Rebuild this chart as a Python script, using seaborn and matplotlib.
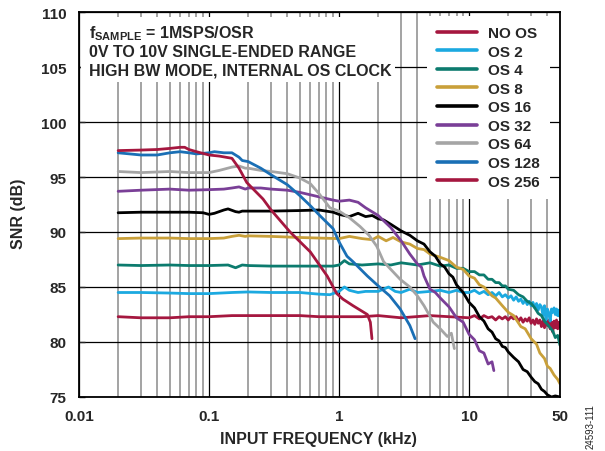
import numpy as np
import pandas as pd
import matplotlib
matplotlib.use("Agg")
import matplotlib.pyplot as plt
from matplotlib.lines import Line2D
from matplotlib.patches import Rectangle
from matplotlib.ticker import LogLocator, NullFormatter, FixedLocator, FixedFormatter
import seaborn as sns

# ---------------- data ----------------
series_names = ["NO OS", "OS 2", "OS 4", "OS 8", "OS 16", "OS 32", "OS 64", "OS 128", "OS 256"]

no_os_f = [0.02, 0.03, 0.05, 0.07, 0.1, 0.15, 0.2, 0.3, 0.5, 0.7, 1, 1.5, 2, 3, 5, 7,
           10, 11, 12, 13, 14, 15, 16, 17, 18, 19, 20, 21, 22, 23, 24, 25, 26, 27, 28, 29, 30,
           31, 32, 33, 34, 35, 36, 37, 38, 39, 40, 41, 42, 43, 44, 45, 46, 47, 48, 49, 50]
no_os_v = [82.3, 82.2, 82.2, 82.3, 82.3, 82.4, 82.4, 82.4, 82.4, 82.3, 82.3, 82.3, 82.4, 82.2, 82.4, 82.3,
           82.2, 82.4, 82.1, 82.4, 82.2, 82.3, 82.0, 82.3, 82.1, 82.3, 82.0, 82.3, 82.1, 82.3, 81.9,
           82.2, 81.8, 82.1, 81.9, 82.2, 81.7, 82.0, 81.6, 82.1, 81.7, 82.0, 81.4, 81.9, 81.3, 81.9,
           81.5, 82.0, 81.2, 81.8, 80.9, 81.9, 81.3, 82.0, 81.2, 81.8, 81.4]

os2_f = [0.02, 0.03, 0.05, 0.07, 0.1, 0.15, 0.2, 0.3, 0.5, 0.7, 0.85, 1.0, 1.1, 1.2, 1.4, 1.6, 2, 2.4, 2.7,
         3, 3.5, 4, 5, 6, 7, 8, 9,
         10, 11, 12, 13, 14, 15, 16, 17, 18, 19, 20, 21, 22, 23, 24, 25, 26, 27, 28, 29, 30,
         31, 32, 33, 34, 35, 36, 37, 38, 39, 40, 41, 42, 43, 44, 45, 46, 47, 48, 49, 50]
os2_v = [84.5, 84.5, 84.45, 84.4, 84.4, 84.5, 84.55, 84.5, 84.5, 84.35, 84.3, 84.6, 85.0, 84.7, 84.5, 84.6,
         84.6, 85.0, 84.6, 84.5, 84.8, 84.5, 84.6, 84.7, 84.5, 84.7, 84.5,
         84.5, 84.7, 84.4, 84.6, 84.3, 84.5, 84.2, 84.5, 84.1, 84.3, 84.0, 84.2, 83.8, 84.1, 83.7,
         83.9, 83.5, 83.8, 83.4, 83.7, 83.3, 83.6, 83.1, 83.5, 82.9, 83.4, 83.2, 82.4, 83.3, 82.0,
         83.0, 82.6, 81.9, 83.0, 82.7, 83.1, 82.5, 83.0, 82.4, 82.9, 82.3]

os4_f = [0.02, 0.03, 0.05, 0.07, 0.1, 0.14, 0.16, 0.18, 0.2, 0.3, 0.5, 0.7, 0.9, 1.0, 1.1, 1.2, 1.5, 2,
         2.5, 3, 4, 5, 6, 7, 8, 9, 10, 11, 12, 13, 14, 15, 16, 17, 18, 19, 20, 22, 24, 26, 28, 30,
         32, 34, 36, 38, 40, 42, 44, 46, 48, 50]
os4_v = [87.0, 86.95, 87.0, 86.95, 86.95, 87.0, 86.75, 87.0, 86.95, 86.9, 86.9, 86.9, 86.9, 87.0, 87.4,
         87.1, 87.0, 87.1, 87.0, 87.2, 87.0, 87.2, 86.9, 87.0, 86.7, 86.7, 86.4, 86.4, 86.1, 86.1, 85.7,
         85.7, 85.4, 85.4, 85.1, 85.1, 84.8, 84.7, 84.3, 84.1, 83.7, 83.5, 83.1, 82.6, 82.4, 81.9,
         81.6, 81.3, 81.0, 80.4, 80.6, 79.7]

os8_f = [0.02, 0.03, 0.05, 0.07, 0.1, 0.13, 0.15, 0.17, 0.19, 0.2, 0.3, 0.5, 0.7, 1, 1.2, 1.5, 1.8, 2,
         2.3, 2.6, 3, 3.5, 4, 4.5, 5, 6, 7, 8, 9, 10, 11, 12, 13, 15, 16, 18, 20, 22, 25, 27, 30,
         33, 35, 38, 40, 42, 45, 48, 50]
os8_v = [89.4, 89.45, 89.45, 89.4, 89.4, 89.45, 89.6, 89.7, 89.6, 89.65, 89.6, 89.5, 89.45, 89.4, 89.6,
         89.4, 89.3, 89.6, 89.2, 89.5, 89.1, 88.9, 88.5, 88.4, 88.0, 87.7, 87.4, 86.8, 86.6, 86.0, 85.8,
         85.2, 85.0, 84.2, 84.0, 83.3, 82.7, 82.4, 81.4, 81.2, 80.3, 79.8, 79.0, 78.5, 77.8, 77.6,
         77.0, 76.6, 76.2]

os16_f = [0.02, 0.03, 0.05, 0.07, 0.09, 0.1, 0.11, 0.13, 0.14, 0.16, 0.17, 0.18, 0.2, 0.3, 0.5, 0.7, 0.9,
          1.0, 1.2, 1.4, 1.6, 1.8, 2, 2.2, 2.5, 3, 3.5, 4, 4.5, 5, 5.5, 6, 6.5, 7, 7.5, 8, 9, 10,
          11, 12, 13, 14, 15, 16, 17, 18, 19, 20, 22, 24, 26, 28, 30, 32, 34, 36, 38, 40, 43, 46, 50]
os16_v = [91.75, 91.8, 91.8, 91.8, 91.75, 91.6, 91.7, 92.0, 92.1, 91.85, 91.8, 91.9, 91.9, 91.9, 91.95,
          92.0, 91.8, 91.6, 91.4, 91.7, 91.4, 91.5, 91.2, 91.1, 90.7, 90.1, 89.7, 89.2, 88.9, 88.2,
          87.8, 87.1, 86.8, 86.2, 85.9, 85.2, 84.5, 83.6, 83.1, 82.3, 81.9, 81.2, 80.9, 80.3, 80.1,
          79.6, 79.5, 79.1, 78.6, 78.2, 77.5, 77.3, 76.8, 76.4, 76.2, 75.7, 75.5, 75.2, 75.0, 75.1,
          75.0]

os32_f = [0.02, 0.03, 0.05, 0.07, 0.1, 0.13, 0.15, 0.17, 0.19, 0.2, 0.25, 0.3, 0.4, 0.5, 0.7, 0.9, 1.0,
          1.2, 1.4, 1.6, 2, 2.5, 3, 3.5, 4, 4.3, 4.5, 5, 5.5, 6, 7, 8, 9, 10, 11, 12, 13, 14, 15, 15.5]
os32_v = [93.7, 93.8, 93.9, 93.8, 93.85, 93.9, 94.0, 94.1, 93.9, 94.0, 94.0, 93.9, 93.8, 93.6, 93.2, 92.9,
          92.8, 92.9, 92.7, 92.2, 91.5, 90.4, 89.2, 88.0, 87.1, 86.8, 86.0, 84.8, 84.5, 84.0, 83.2, 82.2,
          81.8, 80.7, 80.2, 79.2, 79.0, 78.0, 78.2, 77.4]

os64_f = [0.02, 0.03, 0.05, 0.07, 0.1, 0.12, 0.15, 0.17, 0.19, 0.2, 0.25, 0.3, 0.4, 0.5, 0.6, 0.7, 0.85,
          1.0, 1.2, 1.45, 1.7, 1.95, 2.2, 2.5, 2.95, 3.5, 4.0, 4.5, 5.3, 6.0, 6.8, 7.3, 7.7]
os64_v = [95.5, 95.4, 95.5, 95.4, 95.4, 95.6, 95.9, 96.0, 95.8, 95.8, 95.6, 95.5, 95.3, 94.9, 94.4, 93.5,
          92.2, 91.9, 91.3, 90.5, 89.7, 88.7, 87.3, 86.6, 85.7, 85.0, 84.2, 83.3, 81.8, 81.2, 80.5, 80.8,
          79.4]

os128_f = [0.02, 0.03, 0.04, 0.05, 0.06, 0.07, 0.08, 0.1, 0.11, 0.13, 0.15, 0.17, 0.18, 0.2, 0.25, 0.3,
           0.4, 0.5, 0.6, 0.71, 0.9, 1.0, 1.15, 1.28, 1.65, 2.0, 2.45, 2.95, 3.5, 3.84]
os128_v = [97.2, 97.0, 97.0, 97.2, 97.3, 97.2, 97.1, 97.2, 97.3, 97.2, 97.2, 96.8, 96.5, 96.4, 95.8, 95.2,
           94.3, 93.3, 92.4, 91.5, 90.3, 89.1, 87.8, 87.3, 86.0, 85.1, 84.2, 83.0, 81.5, 80.3]

os256_f = [0.02, 0.03, 0.04, 0.05, 0.06, 0.065, 0.07, 0.08, 0.1, 0.12, 0.15, 0.17, 0.195, 0.26, 0.3,
           0.42, 0.6, 0.81, 0.96, 1.07, 1.28, 1.5, 1.65, 1.74, 1.79]
os256_v = [97.4, 97.45, 97.5, 97.6, 97.7, 97.7, 97.5, 97.3, 97.0, 96.9, 96.7, 95.8, 94.5, 93.0, 92.0, 90.0,
           88.2, 86.0, 84.4, 83.9, 83.3, 82.8, 82.5, 81.8, 80.3]

series_f = [no_os_f, os2_f, os4_f, os8_f, os16_f, os32_f, os64_f, os128_f, os256_f]
series_v = [no_os_v, os2_v, os4_v, os8_v, os16_v, os32_v, os64_v, os128_v, os256_v]

colors = ["#A5173F", "#1BA9E0", "#0C7B6E", "#C9A03A", "#000000", "#7A3F97", "#A5A5A5", "#1A6FB5", "#A5173F"]
palette = dict(zip(series_names, colors))

x_tick_vals = [0.01, 0.1, 1, 10, 50]
x_tick_labels = ["0.01", "0.1", "1", "10", "50"]
y_tick_vals = [75, 80, 85, 90, 95, 100, 105, 110]

rows = []
for name, fs, vs in zip(series_names, series_f, series_v):
    for i, (f, v) in enumerate(zip(fs, vs)):
        rows.append({"series": name, "freq": f, "snr": v, "order": i})
df = pd.DataFrame(rows)

# ---------------- style ----------------
sns.set_style("ticks")
plt.rcParams["font.family"] = ["Liberation Sans", "DejaVu Sans"]
plt.rcParams["font.weight"] = "bold"
plt.rcParams["mathtext.fontset"] = "custom"
plt.rcParams["mathtext.rm"] = "Liberation Sans:bold"
plt.rcParams["mathtext.it"] = "Liberation Sans:bold"
plt.rcParams["mathtext.bf"] = "Liberation Sans:bold"

W, H = 605, 452
fig = plt.figure(figsize=(W / 100, H / 100), dpi=100)
L, R, T, B = 79, 560, 13, 398
ax = fig.add_axes([L / W, 1 - B / H, (R - L) / W, (B - T) / H])

sns.lineplot(data=df, x="freq", y="snr", hue="series", hue_order=series_names, palette=palette,
             estimator=None, sort=False, units="series", linewidth=2.0, legend=False, ax=ax)

ax.set_xscale("log")
ax.set_xlim(0.01, 50)
ax.set_ylim(75, 110)

ax.xaxis.set_major_locator(FixedLocator(x_tick_vals))
ax.xaxis.set_major_formatter(FixedFormatter(x_tick_labels))
ax.xaxis.set_minor_locator(LogLocator(base=10, subs=np.arange(2, 10)))
ax.xaxis.set_minor_formatter(NullFormatter())
ax.set_yticks(y_tick_vals)

ax.set_axisbelow(True)
ax.grid(True, which="major", axis="both", color="black", linewidth=0.9)
ax.grid(True, which="minor", axis="x", color="#8a8a8a", linewidth=1.1)

ax.tick_params(axis="x", which="both", length=0, pad=9, labelsize=11)
ax.tick_params(axis="y", which="both", direction="in", length=4, width=1, pad=9, labelsize=11)
for lab in ax.get_xticklabels() + ax.get_yticklabels():
    lab.set_fontweight("bold")

for sp in ax.spines.values():
    sp.set_visible(True)
    sp.set_color("black")
    sp.set_linewidth(1.3)

ax.set_xlabel("INPUT FREQUENCY (kHz)", fontsize=11.5, fontweight="bold", va="center")
ax.set_ylabel("SNR (dB)", fontsize=11.5, fontweight="bold", va="center")
ax.xaxis.set_label_coords((318 - L) / (R - L), (B - 440) / (B - T))
ax.yaxis.set_label_coords((18 - L) / (R - L), (B - 214) / (B - T))

def fx(px):
    return (px - L) / (R - L)

def fy(py):
    return (B - py) / (B - T)

# annotation box
ax.add_patch(Rectangle((fx(80.5), fy(83)), fx(395) - fx(80.5), fy(18) - fy(83),
                       transform=ax.transAxes, facecolor="white", edgecolor="none", zorder=3))
txt_kw = dict(transform=ax.transAxes, ha="left", va="baseline", fontsize=11.5, fontweight="bold", zorder=4)
ax.text(fx(89), fy(38), r"$f_{SAMPLE}$ = 1MSPS/OSR", **txt_kw)
ax.text(fx(89), fy(57), "0V TO 10V SINGLE-ENDED RANGE", **txt_kw)
ax.text(fx(89), fy(75.5), "HIGH BW MODE, INTERNAL OS CLOCK", **txt_kw)

# legend
handles = [Line2D([0], [0], color=palette[n], linewidth=2.6) for n in series_names]
leg = ax.legend(handles, series_names, loc="upper left", bbox_to_anchor=(fx(427), fy(17)),
                borderaxespad=0, frameon=True, fancybox=False, framealpha=1,
                facecolor="white", edgecolor="none", prop={"size": 11, "weight": "bold"},
                handlelength=2.6, handletextpad=0.75, labelspacing=0.3, borderpad=0.65)
leg.set_zorder(5)

fig.text(591 / W, 1 - 427 / H, "24593-111", rotation=90, ha="center", va="center",
         fontsize=7, fontweight="normal", color="#222222")

fig.savefig("out.png", dpi=100)
